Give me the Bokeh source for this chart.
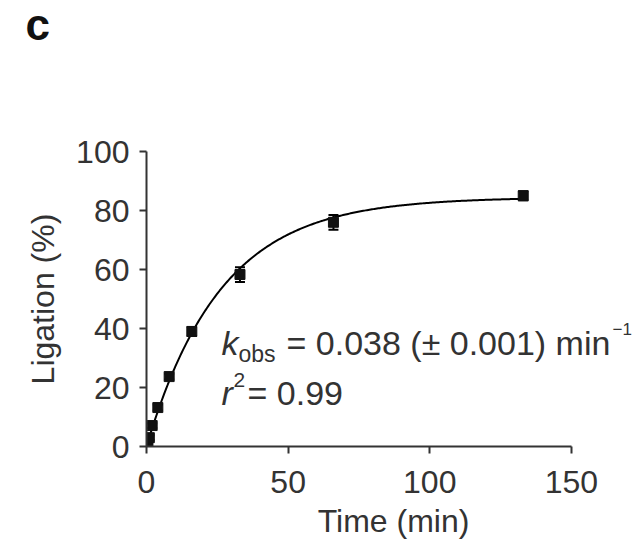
from bokeh.plotting import figure
from bokeh.models import ColumnDataSource, Whisker, TeeHead, FixedTicker, Label
from bokeh.embed import file_html
from bokeh.resources import INLINE
import numpy as np

# data
time_min = [0, 0.5, 1, 2, 4, 8, 16, 33, 66, 133]
ligation_pct = [0, 1.5, 3, 7.1, 13.2, 23.7, 39, 58.3, 76, 85]
ligation_err = [0, 0.5, 0.8, 0.8, 1.0, 1.0, 1.5, 2.5, 2.5, 1.5]

# fitted single-exponential parameters (k_obs stated on the chart)
fit_k = 0.038
fit_amp = 84.5
fit_tmax = 133

x_ticks = [0, 50, 100, 150]
y_ticks = [0, 20, 40, 60, 80, 100]

FONT = "Liberation Sans"
TXT = "#333333"

p = figure(width=640, height=548, x_range=(0, 174.4), y_range=(0, 100),
           output_backend="svg", toolbar_location=None,
           min_border_left=146, min_border_right=0,
           min_border_top=151, min_border_bottom=102)
p.outline_line_color = None
p.xgrid.visible = False
p.ygrid.visible = False
p.background_fill_color = "white"

for ax, ticks in ((p.xaxis[0], x_ticks), (p.yaxis[0], y_ticks)):
    ax.ticker = FixedTicker(ticks=ticks)
    ax.axis_line_width = 2
    ax.axis_line_color = TXT
    ax.major_tick_line_width = 2
    ax.major_tick_line_color = TXT
    ax.major_tick_out = 7
    ax.major_tick_in = 0
    ax.minor_tick_line_color = None
    ax.major_label_text_font = FONT
    ax.major_label_text_font_size = "32px"
    ax.major_label_text_color = TXT
    ax.axis_label_text_font = FONT
    ax.axis_label_text_font_size = "32px"
    ax.axis_label_text_font_style = "normal"
    ax.axis_label_text_color = TXT

p.xaxis.bounds = (0, 150)
p.xaxis.axis_label = "Time (min)"
p.yaxis.axis_label = "Ligation (%)"
p.xaxis.major_label_standoff = 17
p.yaxis.major_label_standoff = 10
p.xaxis.axis_label_standoff = 7
p.yaxis.axis_label_standoff = 12

# fit curve
tt = np.linspace(0, fit_tmax, 300)
p.line(tt, fit_amp * (1 - np.exp(-fit_k * tt)), line_color="black", line_width=2)

src = ColumnDataSource(dict(
    t=time_min, y=ligation_pct,
    upper=[v + e for v, e in zip(ligation_pct, ligation_err)],
    lower=[v - e for v, e in zip(ligation_pct, ligation_err)],
))
w = Whisker(base="t", upper="upper", lower="lower", source=src,
            line_color="black", line_width=2,
            upper_head=TeeHead(size=10, line_color="black", line_width=2),
            lower_head=TeeHead(size=10, line_color="black", line_width=2))
p.add_layout(w)
p.scatter("t", "y", source=src, marker="square", size=10,
          fill_color="#111111", line_color="#111111")

# annotations (screen units relative to the plot frame)
def make_label(text, x, y, size, style="normal", color=TXT):
    return Label(x=x, y=y, x_units="screen", y_units="screen", text=text,
                 text_font=FONT, text_font_size=size, text_font_style=style,
                 text_color=color, text_baseline="alphabetic", text_align="left")

for args in (("k", 75, 104, "34px", "italic"),
             ("obs", 92, 93, "23px"),
             ("= 0.038 (± 0.001) min", 140, 104, "34px"),
             ("−1", 466, 118, "17px"),
             ("r", 75, 54, "34px", "italic"),
             ("2", 87, 67, "21px"),
             ("= 0.99", 101, 54, "34px")):
    p.add_layout(make_label(*args))

# panel letter, in the space above the plot frame
p.add_layout(make_label("c", -121, 127, "44px", "bold", "#111111"), "above")

open("out.html", "w").write(file_html(p, INLINE))
